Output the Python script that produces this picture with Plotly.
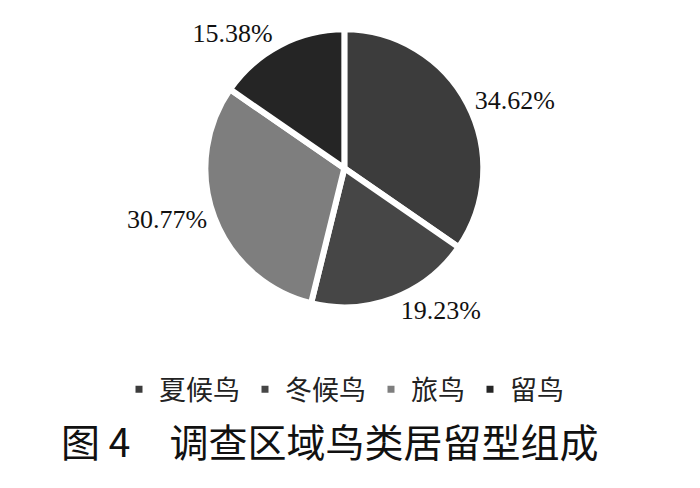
import plotly.graph_objects as go

# 居留型 categories and their shares (%)
labels = ["夏候鸟", "冬候鸟", "旅鸟", "留鸟"]
shares = [34.62, 19.23, 30.77, 15.38]
colors = ["#3c3c3c", "#464646", "#7e7e7e", "#252525"]

caption = "图 4　调查区域鸟类居留型组成"

fig = go.Figure()
fig.add_trace(
    go.Pie(
        labels=labels,
        values=shares,
        sort=False,
        direction="clockwise",
        rotation=0,
        marker=dict(colors=colors, line=dict(color="white", width=6)),
        texttemplate="%{value:.2f}%",
        textposition="outside",
        textfont=dict(family="Liberation Serif", size=26, color="#111111"),
        domain=dict(x=[0.282, 0.679], y=[0.385, 0.958]),
        hoverinfo="label+percent",
    )
)

fig.add_annotation(
    text=caption,
    x=0.459,
    y=0.053,
    xref="paper",
    yref="paper",
    showarrow=False,
    font=dict(family="Noto Sans CJK SC", size=39, color="#111111"),
)

fig.update_layout(
    width=700,
    height=488,
    paper_bgcolor="white",
    plot_bgcolor="white",
    margin=dict(l=0, r=0, t=0, b=0),
    showlegend=True,
    legend=dict(
        orientation="h",
        x=0.48,
        xanchor="center",
        y=0.218,
        yanchor="middle",
        font=dict(family="Noto Sans CJK SC", size=27, color="#222222"),
        itemwidth=30,
        traceorder="normal",
    ),
)

fig.write_html("out.html")
